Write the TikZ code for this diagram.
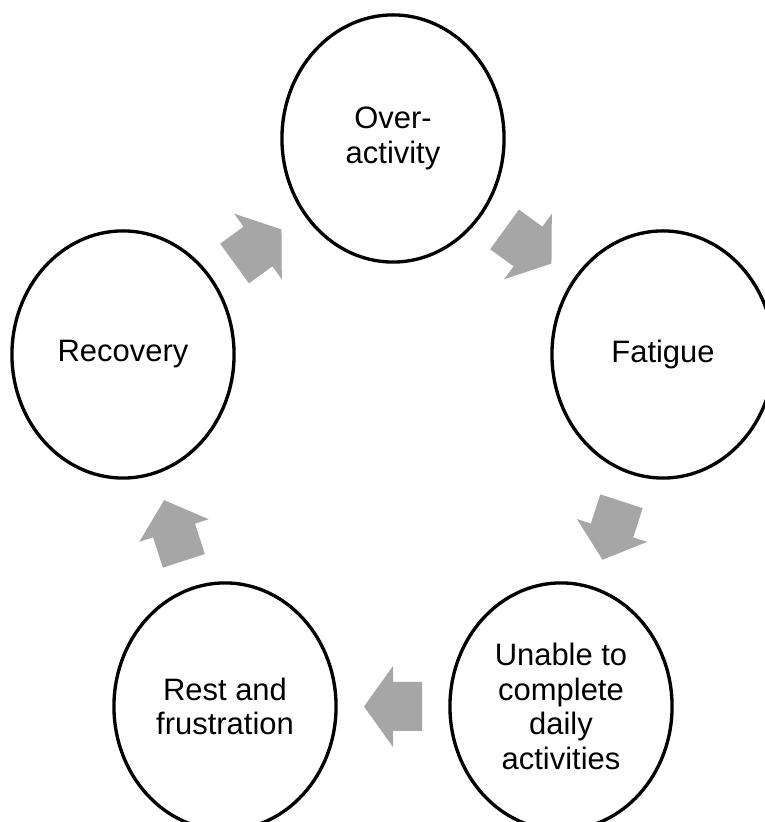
\documentclass[tikz,border=0pt]{standalone}
\usepackage{fontspec}
\setmainfont{Liberation Sans}
\usetikzlibrary{shapes.geometric,calc}
\definecolor{arrowgray}{RGB}{166,166,166}
\tikzset{
  stage/.style={ellipse, draw=black, line width=0.95pt, minimum width=2.22cm,
    minimum height=2.47cm, inner sep=0pt, align=center,
    font=\fontsize{8.8}{9.8}\selectfont},
  blockarrow/.style={fill=arrowgray}
}
% block arrow centred at #2, pointing at angle #3
\newcommand{\cyclearrow}[3][]{%
  \fill[blockarrow, shift={(#2)}, rotate=#3, #1]
    (-29,-24.5) -- (0,-24.5) -- (0,-40.5) -- (29,0) -- (0,40.5) -- (0,24.5) -- (-29,24.5) -- cycle;}
\begin{document}
\begin{tikzpicture}[x=0.01cm, y=0.01cm]
        \useasboundingbox (0,0) rectangle (765,822);
        \clip (0,0) rectangle (765,822);
        %\draw [help lines, step=100] (0,0) grid (765,822);
        \node [stage] (over) at (393,683.5) {Over-\\activity};
        \node [stage] (fatigue) at (663,467.5) {Fatigue};
        \node [stage] (unable) at (561,115.5) {Unable to\\complete\\daily\\activities};
        \node [stage] (rest) at (225,115.5) {Rest and\\frustration};
        \node [stage] (recovery) at (123,467.5) {Recovery};

        \cyclearrow{$(recovery)!0.5!(over)$}{36}
        \cyclearrow{$(over)!0.5!(fatigue)$}{-36}
        \cyclearrow[xscale=1.06, yscale=0.91]{$(fatigue)!0.5!(unable)$}{-108}
        \cyclearrow{$(unable)!0.5!(rest)$}{180}
        \cyclearrow[xscale=1.1, yscale=0.9]{$(rest)!0.5!(recovery)$}{108}
    \end{tikzpicture}
\end{document}
